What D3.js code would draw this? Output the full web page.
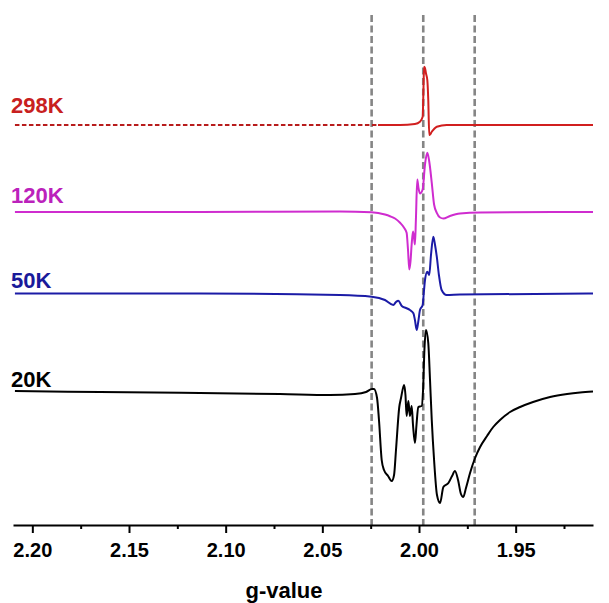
<!DOCTYPE html>
<html>
<head>
<meta charset="utf-8">
<script src="https://cdn.jsdelivr.net/npm/d3@7"></script>
<style>
  body { margin: 0; background: #fff; }
  svg { display: block; font-family: Arial, "Liberation Sans", sans-serif; }
</style>
</head>
<body>
<svg id="chart" width="609" height="603"></svg>
<script>
// g-values of the spectra, intensities relative to each trace baseline
const g20K = [2.2090, 2.1650, 2.1133, 2.0719, 2.0460, 2.0331, 2.0274, 2.0243, 2.0233, 2.0217, 2.0207, 2.0193, 2.0181, 2.0160, 2.0141, 2.0129, 2.0119, 2.0102, 2.0093, 2.0077, 2.0070, 2.0064, 2.0055, 2.0047, 2.0038, 2.0031, 2.0021, 2.0013, 2.0004, 1.9986, 1.9979, 1.9972, 1.9964, 1.9952, 1.9943, 1.9934, 1.9922, 1.9907, 1.9891, 1.9874, 1.9848, 1.9829, 1.9814, 1.9798, 1.9783, 1.9771, 1.9757, 1.9736, 1.9710, 1.9684, 1.9648, 1.9616, 1.9581, 1.9529, 1.9477, 1.9410, 1.9322, 1.9234, 1.9167, 1.9100];
const i20K = [-1, -2, -3, -4, -5, -4, -2, 1, 1, -8, -30, -70, -80, -86, -91, -85, -60, -17, -8, 5, -5, -26, -11, -26, -16, -35, -53, -35, -17, -16, 0, 40, 60, 47, 10, -30, -70, -105, -113, -97, -93, -86, -81, -90, -104, -107, -98, -83, -68, -57, -46, -37, -30, -22, -17, -12, -7, -4, -2.5, -1.5];

const g50K = [2.2090, 2.1133, 2.0409, 2.0245, 2.0176, 2.0133, 2.0119, 2.0107, 2.0089, 2.0067, 2.0047, 2.0029, 2.0021, 2.0012, 2.0004, 1.9995, 1.9981, 1.9974, 1.9969, 1.9957, 1.9947, 1.9938, 1.9926, 1.9917, 1.9908, 1.9897, 1.9883, 1.9857, 1.9788, 1.9100];
const i50K = [0, 0, -1.5, -3.2, -6.5, -11.5, -8.5, -7.2, -12.5, -14.5, -16.5, -19.8, -26.5, -36.5, -28.5, -16.5, -11.5, 3.5, 13.5, 21.8, 18.5, 38.5, 56.8, 48.5, 36.8, 18.5, 3.5, -1.5, -1, 0];

const g120K = [2.2090, 2.1133, 2.0409, 2.0245, 2.0176, 2.0150, 2.0124, 2.0098, 2.0078, 2.0064, 2.0057, 2.0050, 2.0044, 2.0038, 2.0031, 2.0026, 2.0021, 2.0016, 2.0009, 2.0003, 1.9995, 1.9981, 1.9969, 1.9957, 1.9947, 1.9934, 1.9922, 1.9908, 1.9891, 1.9874, 1.9840, 1.9788, 1.9684, 1.9100];
const i120K = [0, 0, 0.5, -0.2, -2.5, -4.2, -6.5, -10.8, -15.5, -20.8, -37.5, -57.5, -49.5, -32.5, -19.5, -25.5, -32.5, -7.5, 32.5, 24.5, 18.5, 22.5, 47.5, 59.2, 50.5, 29.2, 7.5, -0.8, -5.5, -6.5, -4, -1.5, -0.5, 0];

const g298K = [2.2090, 2.0212, 2.0098, 2.0021, 1.9995, 1.9981, 1.9977, 1.9974, 1.9969, 1.9964, 1.9957, 1.9952, 1.9947, 1.9941, 1.9934, 1.9922, 1.9908, 1.9857, 1.9100];
const i298K = [0, 0, 0, 1, 3.3, 8.3, 35, 58.3, 57, 51.7, 45, 25, -10, -9, -6.7, -4, -1.7, 0, 0];

const seriesNames = ['298K', '120K', '50K', '20K'];
const seriesOffsets = [400, 313, 231.5, 135];
const labelOffsets = [412, 322, 237, 138];
const seriesColors = ['#d11f1f', '#cf2ccf', '#1b1ba6', '#000000'];
const labelColors = ['#c82020', '#bb22bb', '#1a1a9a', '#000000'];
const redDashEnd = 2.0212;

const refLines = [2.0245, 1.9978, 1.9712];
const majorTicks = [2.20, 2.15, 2.10, 2.05, 2.00, 1.95];
const minorTicks = [2.175, 2.125, 2.075, 2.025, 1.975, 1.925];

let svg = d3.select('#chart');

// set the ranges (g-value decreases to the right)
let x = d3.scaleLinear().domain([2.21, 1.91]).range([13, 593]);
let y = d3.scaleLinear().domain([0, 512]).range([525, 13]);

let gData = [g298K, g120K, g50K, g20K];
let iData = [i298K, i120K, i50K, i20K];

// reference lines
svg.selectAll('.ref')
  .data(refLines)
  .enter().append('line')
  .attr('class', 'ref')
  .attr('x1', d => x(d)).attr('x2', d => x(d))
  .attr('y1', y(510)).attr('y2', y(0))
  .attr('stroke', '#858585')
  .attr('stroke-width', 2.6)
  .attr('stroke-dasharray', '7,3.5');

let line = d3.line()
  .x(d => x(d[0]))
  .y(d => y(d[1]))
  .curve(d3.curveMonotoneX);

seriesNames.forEach((name, k) => {
  let pts = gData[k].map((g, j) => [g, iData[k][j] + seriesOffsets[k]]);
  if (name === '298K') {
    let dashed = pts.filter(p => p[0] >= redDashEnd);
    let solid = pts.filter(p => p[0] <= redDashEnd);
    svg.append('path')
      .datum(dashed)
      .attr('fill', 'none')
      .attr('stroke', '#b81c1c')
      .attr('stroke-width', 2)
      .attr('stroke-dasharray', '4.5,2.5')
      .attr('d', line);
    svg.append('path')
      .datum(solid)
      .attr('fill', 'none')
      .attr('stroke', seriesColors[k])
      .attr('stroke-width', 2)
      .attr('d', line);
  } else {
    svg.append('path')
      .datum(pts)
      .attr('fill', 'none')
      .attr('stroke', seriesColors[k])
      .attr('stroke-width', 2)
      .attr('d', line);
  }

  svg.append('text')
    .attr('x', 11)
    .attr('y', y(labelOffsets[k]))
    .attr('fill', labelColors[k])
    .attr('font-size', 22)
    .attr('font-weight', 'bold')
    .text(name);
});

// x axis
let xAxis = d3.axisBottom(x)
  .tickValues(majorTicks)
  .tickFormat(d3.format('.2f'))
  .tickSizeInner(8)
  .tickSizeOuter(0)
  .tickPadding(10);

let gx = svg.append('g')
  .attr('transform', `translate(0,${y(0)})`)
  .call(xAxis);

gx.select('.domain').attr('stroke', '#000').attr('stroke-width', 2.2);
gx.selectAll('.tick line').attr('stroke', '#000').attr('stroke-width', 2);
gx.selectAll('.tick text')
  .attr('fill', '#000')
  .attr('font-size', 20)
  .attr('font-weight', 'bold')
  .attr('font-family', 'Arial, "Liberation Sans", sans-serif');

let minorAxis = d3.axisBottom(x)
  .tickValues(minorTicks)
  .tickFormat('')
  .tickSizeInner(4)
  .tickSizeOuter(0);

let gm = svg.append('g')
  .attr('transform', `translate(0,${y(0)})`)
  .call(minorAxis);
gm.select('.domain').remove();
gm.selectAll('.tick line').attr('stroke', '#000').attr('stroke-width', 2);

svg.append('text')
  .attr('x', 284)
  .attr('y', 598)
  .attr('text-anchor', 'middle')
  .attr('font-size', 22)
  .attr('font-weight', 'bold')
  .text('g-value');
</script>
</body>
</html>
